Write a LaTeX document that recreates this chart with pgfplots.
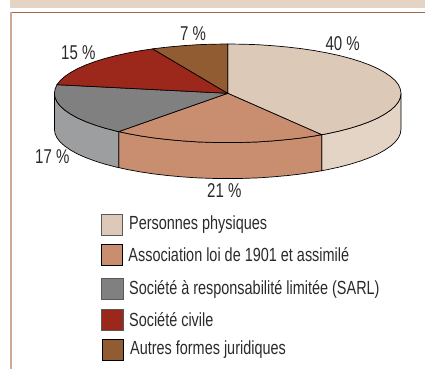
\documentclass[border=0pt]{standalone}
\usepackage{fontspec}
\setmainfont{Liberation Sans}
\usepackage{pgfplots}
\pgfplotsset{compat=1.18}
\definecolor{cA}{HTML}{DDC9B7}
\definecolor{cAw}{HTML}{E4D4C5}
\definecolor{cB}{HTML}{C98E70}
\definecolor{cC}{HTML}{808080}
\definecolor{cCw}{HTML}{9D9EA0}
\definecolor{cD}{HTML}{9C271B}
\definecolor{cE}{HTML}{925C33}
\definecolor{band}{HTML}{E5D3C3}
\definecolor{frT}{HTML}{A8683F}
\definecolor{frL}{HTML}{CFAB94}
\definecolor{txt}{HTML}{2A2A2A}
\newcommand{\lab}[3]{\node[anchor=center,inner sep=0pt,text=txt,xscale=0.75,font=\fontsize{20}{22}\selectfont] at (axis cs:#1,#2) {#3};}
\newcommand{\leg}[3]{\node[anchor=west,inner sep=0pt,text=txt,xscale=0.76,font=\fontsize{19}{21}\selectfont] at (axis cs:#1,#2) {#3};}
\begin{document}
\begin{tikzpicture}
\path[use as bounding box] (0,0) rectangle (425pt,369pt);
\begin{axis}[at={(0,0)},anchor=south west,scale only axis,width=425pt,height=369pt,xmin=0,xmax=425,ymin=0,ymax=369,y dir=reverse,hide axis,clip=true]
% header band and frame
\addplot[draw=none,fill=band] coordinates {(10,0)(425,0)(425,8)(10,8)} -- cycle;
\addplot[frT,line width=1pt] coordinates {(10,12.5)(425,12.5)};
\addplot[frL,line width=2pt] coordinates {(10.5,12)(10.5,369)};
% walls
\addplot[draw=black,line width=0.7pt,fill=cAw] coordinates {(401.0,93.3)(400.3,97.6)(398.4,101.9)(395.1,106.1)(390.5,110.2)(384.8,114.1)(377.8,118.0)(369.7,121.6)(360.5,125.0)(350.2,128.2)(339.1,131.1)(327.1,133.7)(321.7,134.7)(321.7,170.7)(327.1,169.7)(339.1,167.1)(350.2,164.2)(360.5,161.0)(369.7,157.6)(377.8,154.0)(384.8,150.1)(390.5,146.2)(395.1,142.1)(398.4,137.9)(400.3,133.6)(401.0,129.3)} -- cycle;
\addplot[draw=black,line width=0.7pt,fill=cB] coordinates {(321.7,134.7)(314.4,136.0)(300.9,138.0)(287.0,139.6)(272.6,140.9)(257.8,141.9)(242.8,142.4)(227.7,142.6)(212.6,142.4)(197.6,141.9)(182.8,140.9)(168.4,139.6)(154.5,138.0)(141.0,136.0)(128.3,133.7)(118.7,131.6)(118.7,167.6)(128.3,169.7)(141.0,172.0)(154.5,174.0)(168.4,175.6)(182.8,176.9)(197.6,177.9)(212.6,178.4)(227.7,178.6)(242.8,178.4)(257.8,177.9)(272.6,176.9)(287.0,175.6)(300.9,174.0)(314.4,172.0)(321.7,170.7)} -- cycle;
\addplot[draw=black,line width=0.7pt,fill=cCw] coordinates {(118.7,131.6)(116.3,131.1)(105.2,128.2)(94.9,125.0)(85.7,121.6)(77.6,118.0)(70.6,114.1)(64.9,110.2)(60.3,106.1)(57.0,101.9)(55.1,97.6)(54.4,93.3)(54.4,129.3)(55.1,133.6)(57.0,137.9)(60.3,142.1)(64.9,146.2)(70.6,150.1)(77.6,154.0)(85.7,157.6)(94.9,161.0)(105.2,164.2)(116.3,167.1)(118.7,167.6)} -- cycle;
% top sectors
\addplot[draw=black,line width=0.7pt,fill=cA] coordinates {(227.7,93.3)(227.7,44.0)(242.8,44.2)(257.8,44.7)(272.6,45.7)(287.0,47.0)(300.9,48.6)(314.4,50.6)(327.1,52.9)(339.1,55.5)(350.2,58.4)(360.5,61.6)(369.7,65.0)(377.8,68.6)(384.8,72.5)(390.5,76.4)(395.1,80.5)(398.4,84.7)(400.3,89.0)(401.0,93.3)(400.3,97.6)(398.4,101.9)(395.1,106.1)(390.5,110.2)(384.8,114.1)(377.8,118.0)(369.7,121.6)(360.5,125.0)(350.2,128.2)(339.1,131.1)(327.1,133.7)(321.7,134.7)} -- cycle;
\addplot[draw=black,line width=0.7pt,fill=cB] coordinates {(227.7,93.3)(321.7,134.7)(314.4,136.0)(300.9,138.0)(287.0,139.6)(272.6,140.9)(257.8,141.9)(242.8,142.4)(227.7,142.6)(212.6,142.4)(197.6,141.9)(182.8,140.9)(168.4,139.6)(154.5,138.0)(141.0,136.0)(128.3,133.7)(118.7,131.6)} -- cycle;
\addplot[draw=black,line width=0.7pt,fill=cC] coordinates {(227.7,93.3)(118.7,131.6)(116.3,131.1)(105.2,128.2)(94.9,125.0)(85.7,121.6)(77.6,118.0)(70.6,114.1)(64.9,110.2)(60.3,106.1)(57.0,101.9)(55.1,97.6)(54.4,93.3)(55.1,89.0)(57.0,84.7)} -- cycle;
\addplot[draw=black,line width=0.7pt,fill=cD] coordinates {(227.7,93.3)(57.0,84.7)(60.3,80.5)(64.9,76.4)(70.6,72.5)(77.6,68.6)(85.7,65.0)(94.9,61.6)(105.2,58.4)(116.3,55.5)(128.3,52.9)(141.0,50.6)(152.7,48.9)} -- cycle;
\addplot[draw=black,line width=0.7pt,fill=cE] coordinates {(227.7,93.3)(152.7,48.9)(154.5,48.6)(168.4,47.0)(182.8,45.7)(197.6,44.7)(212.6,44.2)(227.7,44.0)} -- cycle;
% legend swatches
\addplot[draw=black!65,line width=0.9pt,fill=cA] coordinates {(101,214)(122.3,214)(122.3,235)(101,235)} -- cycle;
\addplot[draw=black,line width=0.9pt,fill=cB] coordinates {(101,244.3)(122.3,244.3)(122.3,265.3)(101,265.3)} -- cycle;
\addplot[draw=black!65,line width=0.9pt,fill=cC] coordinates {(101.3,278)(123,278)(123,299)(101.3,299)} -- cycle;
\addplot[draw=black!65,line width=0.9pt,fill=cD] coordinates {(101.7,309)(123.3,309)(123.3,330)(101.7,330)} -- cycle;
\addplot[draw=black,line width=0.9pt,fill=cE] coordinates {(102.3,339)(123.7,339)(123.7,360.3)(102.3,360.3)} -- cycle;
\lab{342.7}{43.7}{40 \%}
\lab{193}{34}{7 \%}
\lab{78.3}{52.7}{15 \%}
\lab{52.3}{156.7}{17 \%}
\lab{224.3}{190.7}{21 \%}
\leg{129}{224.3}{Personnes physiques}
\leg{128.3}{255}{Association loi de 1901 et assimilé}
\leg{129}{289}{Société à responsabilité limitée (SARL)}
\leg{129}{320}{Société civile}
\leg{130}{350}{Autres formes juridiques}
\end{axis}
\end{tikzpicture}
\end{document}
